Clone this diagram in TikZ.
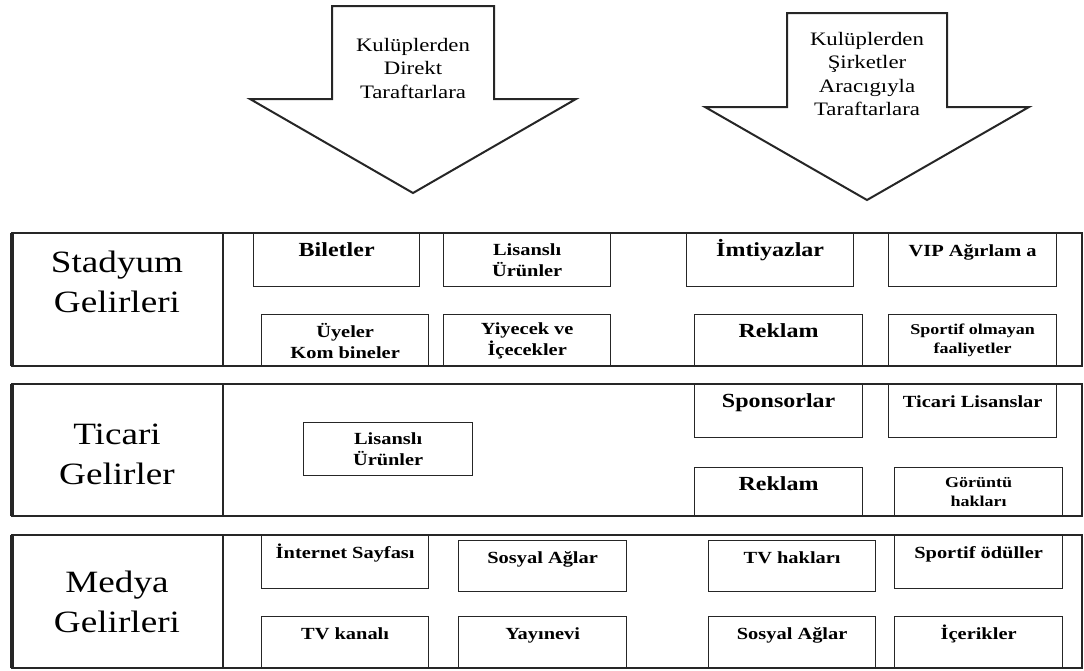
\documentclass[tikz,border=0pt]{standalone}
\usepackage{fontspec}
\setmainfont[FakeStretch=1.2]{Liberation Serif}
\usepackage{tikz}

\begin{document}
\begin{tikzpicture}[
    x=1pt,y=-1pt,
    cell/.style={draw=black!85,line width=1.3pt,anchor=north west,inner sep=0pt,
                 minimum width=167,minimum height=53,align=center,
                 font=\fontsize{17}{21}\selectfont\bfseries},
    big/.style={font=\fontsize{20}{24}\selectfont\bfseries},
    small/.style={font=\fontsize{15}{19}\selectfont\bfseries},
    up/.style={text height=23pt,text depth=#1},
    up/.default=30pt,
    frame/.style={draw=black!85,line width=1.6pt},
    bigarrow/.style={draw=black!85,line width=2pt,line join=miter},
    note/.style={align=center,font=\fontsize{19}{23.5}\selectfont},
    head/.style={align=center,font=\fontsize{31}{40}\selectfont},
  ]
    \useasboundingbox (0,0) rectangle (1084,670);

    % the two big arrows
    \draw[bigarrow] (332,6) -- (494,6) -- (494,99) -- (576,99) -- (413,193)
        -- (250,99) -- (332,99) -- cycle;
    \draw[bigarrow] (787,13) -- (947,13) -- (947,107) -- (1029,107) -- (867,200)
        -- (705,107) -- (787,107) -- cycle;
    \node[note] (direkt) at (413,68) {Kulüplerden\\Direkt\\Taraftarlara};
    \node[note] (sirket) at (867,74) {Kulüplerden\\Şirketler\\Aracıgıyla\\Taraftarlara};

    % rows
    \foreach \t/\b in {233/366,384/516,535/668} {
      \draw[frame] (12,\t) rectangle (1082,\b) (223,\t) -- (223,\b);
      \draw[frame,line width=3.5pt] (12,\t) -- (12,\b);
    }
    \node[head] (stadyum) at (117,282) {Stadyum\\Gelirleri};
    \node[head] (ticari)  at (117,454) {Ticari\\Gelirler};
    \node[head] (medya)   at (117,602) {Medya\\Gelirleri};

    % stadyum
    \node[cell,big,up,minimum width=166] (bilet) at (253,233) {Biletler};
    \node[cell] (lisans1) at (443,233) {Lisanslı\\Ürünler};
    \node[cell,big,up] (imtiyaz) at (686,233) {İmtiyazlar};
    \node[cell,up,minimum width=168] (vip) at (888,233) {VIP Ağırlam a};
    \node[cell,minimum height=52] (uye) at (261,314) {Üyeler\\Kom bineler};
    \node[cell,minimum height=52] (yiyecek) at (443,314) {Yiyecek ve\\İçecekler};
    \node[cell,big,up=29pt,minimum width=168,minimum height=52] (reklam1) at (694,314) {Reklam};
    \node[cell,small,minimum width=168,minimum height=52] (sportif) at (888,314) {Sportif olmayan\\faaliyetler};

    % ticari
    \node[cell,minimum width=169] (lisans2) at (303,422) {Lisanslı\\Ürünler};
    \node[cell,big,up,minimum width=168] (sponsor) at (694,384) {Sponsorlar};
    \node[cell,up,minimum width=168] (ticlis) at (888,384) {Ticari Lisanslar};
    \node[cell,big,up=26pt,minimum width=168,minimum height=49] (reklam2) at (694,467) {Reklam};
    \node[cell,small,minimum width=168,minimum height=49] (goruntu) at (894,467) {Görüntü\\hakları};

    % medya
    \node[cell,up] (internet) at (261,535) {İnternet Sayfası};
    \node[cell,up=28pt,minimum width=168,minimum height=51] (sosyal1) at (458,540) {Sosyal Ağlar};
    \node[cell,up=28pt,minimum height=51] (tvhak) at (708,540) {TV hakları};
    \node[cell,up,minimum width=168] (odul) at (894,535) {Sportif ödüller};
    \node[cell,up=29pt,minimum height=52] (tvkanal) at (261,616) {TV kanalı};
    \node[cell,up=29pt,minimum width=168,minimum height=52] (yayin) at (458,616) {Yayınevi};
    \node[cell,up=29pt,minimum height=52] (sosyal2) at (708,616) {Sosyal Ağlar};
    \node[cell,up=29pt,minimum width=168,minimum height=52] (icerik) at (894,616) {İçerikler};
  \end{tikzpicture}
\end{document}
